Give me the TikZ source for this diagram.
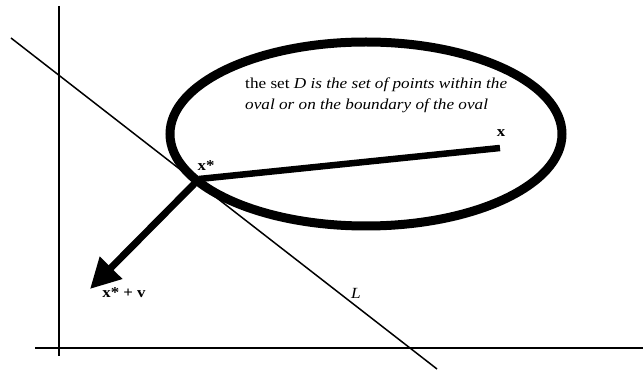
\documentclass[tikz,border=0pt]{standalone}
\usepackage{fontspec}
\setmainfont{Liberation Serif}
\usetikzlibrary{arrows.meta}
\begin{document}
\begin{tikzpicture}[x=1pt,y=-1pt,
  axis/.style={line width=1.5pt},
  thick line/.style={line width=6.5pt},
  lbl/.style={font=\fontsize{15}{22}\selectfont\bfseries, inner sep=0pt, xscale=1.12}]
\useasboundingbox (0,0) rectangle (643,371);
% axes
\coordinate (yt) at (59,6);
\coordinate (yb) at (59,356);
\coordinate (xl) at (35,348);
\coordinate (xr) at (643,348);
\draw[axis] (yt) -- (yb);
\draw[axis] (xl) -- (xr);
% line L
\coordinate (La) at (11,38);
\coordinate (Lb) at (437,369);
\draw[axis] (La) -- (Lb);
\node[font=\fontsize{15.5}{18}\selectfont\itshape, inner sep=0pt, xscale=1.12] (Ll) at (356,293) {L};
% oval
\draw[line width=9pt] (366,134) ellipse [x radius=196, y radius=92];
\node[align=left, anchor=north west, inner sep=0pt, xscale=1.13, font=\fontsize{15.2}{21}\selectfont] (txt) at (245,78)
 {the set \textit{D is the set of points within the}\\ \textit{oval or on the boundary of the oval}};
% points
\coordinate (xs) at (199,179);
\coordinate (x) at (500,148);
\coordinate (xv) at (90,289);
\draw[thick line] (xs) -- (x);
\draw[line width=7pt, -{Triangle[length=30pt,width=30pt]}] (xs) -- (xv);
\node[lbl] (lxs) at (206,166) {x*};
\node[lbl] (lx) at (501,133) {x};
\node[lbl] (lxv) at (124,293) {x* + v};
\end{tikzpicture}
\end{document}
